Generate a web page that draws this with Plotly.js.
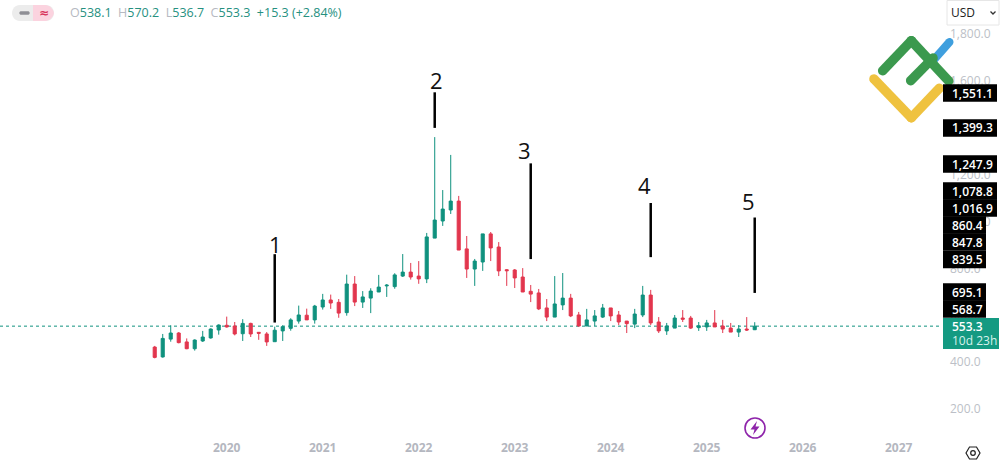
<!DOCTYPE html>
<html><head><meta charset="utf-8">
<script src="https://cdn.plot.ly/plotly-3.0.1.min.js"></script>
<style>html,body{margin:0;padding:0;background:#fff;overflow:hidden}#c{width:1000px;height:467px}</style>
</head><body><div id="c"></div>
<script>
const months=["2019-04","2019-05","2019-06","2019-07","2019-08","2019-09","2019-10","2019-11","2019-12",
"2020-01","2020-02","2020-03","2020-04","2020-05","2020-06","2020-07","2020-08","2020-09","2020-10","2020-11","2020-12",
"2021-01","2021-02","2021-03","2021-04","2021-05","2021-06","2021-07","2021-08","2021-09","2021-10","2021-11","2021-12",
"2022-01","2022-02","2022-03","2022-04","2022-05","2022-06","2022-07","2022-08","2022-09","2022-10","2022-11","2022-12",
"2023-01","2023-02","2023-03","2023-04","2023-05","2023-06","2023-07","2023-08","2023-09","2023-10","2023-11","2023-12",
"2024-01","2024-02","2024-03","2024-04","2024-05","2024-06","2024-07","2024-08","2024-09","2024-10","2024-11","2024-12",
"2025-01","2025-02","2025-03","2025-04","2025-05","2025-06","2025-07"];
const open_=[464,422,498,524,486,457,490,503,537,557,554,521,565,527,520,487,533,544,575,600,580,635,665,655,611,733,656,673,699,725,722,767,784,767,755,929,1002,1049,1087,883,797,827,947,891,794,793,763,702,695,631,592,644,673,601,554,575,592,631,601,575,562,601,686,571,533,545,588,588,547,550,567,554,545,528,541,538.1];
const high_=[469,520,557,528,501,497,533,544,561,594,571,583,568,528,528,551,557,587,641,628,644,691,688,669,773,767,703,715,772,733,779,861,823,831,951,1360,1134,1284,1109,938,840,947,955,912,797,797,801,729,712,669,767,780,691,614,627,622,648,631,618,575,627,725,708,592,567,601,622,597,571,580,622,580,567,558,592,570.2];
const low_=[416,419,487,480,455,449,486,500,517,547,514,490,507,495,469,487,490,534,564,580,564,624,627,589,598,639,631,609,699,678,713,763,752,734,737,929,981,1032,878,759,725,789,831,767,725,716,699,656,622,575,592,622,592,551,554,554,588,575,558,524,545,592,558,524,516,545,571,541,533,533,550,524,528,507,533,536.7];
const close_=[420,501,524,483,457,494,507,541,558,550,520,565,520,523,486,536,551,580,601,580,639,665,652,609,733,656,678,703,720,728,772,784,763,755,934,1006,1053,1087,878,797,831,947,887,789,790,759,699,690,627,592,648,673,597,554,580,597,631,597,571,564,605,686,567,533,554,588,583,545,555,567,550,541,528,541,537,553.3];
const yearLabels=["2020","2021","2022","2023","2024","2025","2026","2027"];
const yearTickMonths=[9,21,33,45,57,69,81,93];
const priceTicks=[200,400,600,800,1000,1200,1400,1600,1800];
const priceTickLabels=["200.0","400.0","600.0","800.0","1,000.0","1,200.0","1,400.0","1,600.0","1,800.0"];
const lastPrice=553.3;
const waveNames=["1","2","3","4","5"];
const waveMonths=[15,35,47,62,75];
const waveTop=[860.4,1551.1,1247.9,1078.8,1016.9];
const waveBottom=[568.7,1399.3,839.5,847.8,695.1];
const tagLabels=["1,551.1","1,399.3","1,247.9","1,078.8","1,016.9","860.4","847.8","839.5","695.1","568.7"];

const PW=942,PH=439;
const GREEN="#0f917e",RED="#e2364e";
const px=x=>x/PW, py=y=>1-y/PH;
const shapes=[],ann=[];
function capsule(x0,y0,x1,y1,w,color){
  const a=Math.atan2(y1-y0,x1-x0),r=w/2,pts=[];
  for(let k=0;k<=12;k++){const t=a-Math.PI/2-k*Math.PI/12;pts.push([x0+r*Math.cos(t),y0+r*Math.sin(t)]);}
  for(let k=0;k<=12;k++){const t=a+Math.PI/2-k*Math.PI/12;pts.push([x1+r*Math.cos(t),y1+r*Math.sin(t)]);}
  const path="M"+pts.map(p=>px(p[0]).toFixed(5)+","+py(p[1]).toFixed(5)).join("L")+"Z";
  shapes.push({type:"path",xref:"paper",yref:"paper",path,fillcolor:color,line:{width:0},layer:"above"});
}
function poly(pts,o){
  shapes.push(Object.assign({type:"path",xref:"paper",yref:"paper",layer:"above",
    path:"M"+pts.map(p=>px(p[0]).toFixed(5)+","+py(p[1]).toFixed(5)).join("L")+(o.close?"Z":"")},o.s));
}
function label(x,y,text,font,extra){
  ann.push(Object.assign({xref:"paper",yref:"paper",x:px(x),y:py(y),text,showarrow:false,xanchor:"left",yanchor:"middle",font,borderpad:0},extra||{}));
}
// last price line
shapes.push({type:"line",xref:"paper",yref:"y",x0:0,x1:1,y0:lastPrice,y1:lastPrice,line:{color:GREEN,width:1,dash:"dot"},layer:"below"});
// wave markers
waveNames.forEach((n,i)=>{
  shapes.push({type:"line",xref:"x",yref:"y",x0:waveMonths[i],x1:waveMonths[i],y0:waveBottom[i],y1:waveTop[i],line:{color:"#000",width:2.5},layer:"above"});
});
const wavePos=[[275,244],[436,80],[524,150],[644,185],[748,201]];
waveNames.forEach((n,i)=>{
  ann.push({xref:"paper",yref:"paper",x:px(wavePos[i][0]),y:py(wavePos[i][1]),text:n,showarrow:false,xanchor:"center",yanchor:"middle",font:{family:"Open Sans",size:22,color:"#111"}});
});
// logo
capsule(931,63,949.5,42,8,"#3f9fde");
capsule(874,79,911.3,117.7,9.5,"#efc23f");
capsule(911.3,117.7,939.3,88.3,9.5,"#efc23f");
capsule(882.7,70.7,911.3,40.7,9.5,"#3b994e");
capsule(911.3,40.7,948.7,81,9.5,"#3b994e");
capsule(910.7,80.7,933,58,9.5,"#3b994e");
// price tags
const tagY=[93,128,164,191,208,225,242,259.5,292,309];
tagLabels.forEach((t,i)=>{
  const w=t.length>5?54:43;
  shapes.push({type:"rect",xref:"paper",yref:"paper",x0:px(943),x1:px(943+w),y0:py(tagY[i]+8.7),y1:py(tagY[i]-8.7),fillcolor:"#000",line:{width:0},layer:"above"});
  label(951,tagY[i],t,{family:"Open Sans",size:12,color:"#fff",weight:600});
});
shapes.push({type:"rect",xref:"paper",yref:"paper",x0:px(943),x1:px(999),y0:py(349),y1:py(318),fillcolor:"#149a82",line:{width:0},layer:"above"});
label(951,326.5,"553.3",{family:"Open Sans",size:12,color:"#fff",weight:600});
label(951,340.5,"10d 23h",{family:"Open Sans",size:12,color:"#d6f2ec",weight:500});
// USD box
shapes.push({type:"rect",xref:"paper",yref:"paper",x0:px(947),x1:px(999),y0:py(25),y1:py(0.5),fillcolor:"#fff",line:{color:"#e6e6e6",width:1},layer:"above"});
label(950,13,"USD",{family:"Open Sans",size:12,color:"#222"});
poly([[990.5,11.5],[993,14],[995.5,11.5]],{s:{line:{color:"#333",width:1.3}}});
// top-left widget
capsule(20,13,46,13,16,"#ececec");
poly([[33,5],[46,5],[50,6.5],[53,10],[54,13],[53,16],[50,19.5],[46,21],[33,21]],{close:true,s:{fillcolor:"#fbd3df",line:{width:0}}});
capsule(21,13,28,13,3.4,"#8f8f95");
label(37.5,12.5,"≈",{family:"DejaVu Sans",size:12,color:"#d8335c",weight:700});
const G='#b6b9c2',T='#26907f';
const ohlc=["O","538.1","H","570.2","L","536.7","C","553.3"];
let ohlcText="";
for(let i=0;i<ohlc.length;i+=2){ohlcText+=`<span style="color:${G}">${ohlc[i]}</span>${ohlc[i+1]}  `;}
label(69,13,ohlcText+"+15.3 (+2.84%)",{family:"Open Sans",size:12.5,color:T,weight:500});
// lightning badge
shapes.push({type:"circle",xref:"paper",yref:"paper",x0:px(745),x1:px(765),y0:py(438),y1:py(418),fillcolor:"#fff",line:{color:"#8e24aa",width:1.6},layer:"above"});
poly([[757,421],[750.5,429.5],[754.5,429.5],[753,435],[759.5,426.5],[755.5,426.5]],{close:true,s:{fillcolor:"#8e24aa",line:{width:0}}});
// settings hexagon
poly([[966,453],[969.5,447],[976.5,447],[980,453],[976.5,459],[969.5,459]],{close:true,s:{fillcolor:"#fff",line:{color:"#222",width:1.2}}});
shapes.push({type:"circle",xref:"paper",yref:"paper",x0:px(970.7),x1:px(975.3),y0:py(455.3),y1:py(450.7),fillcolor:"#fff",line:{color:"#222",width:1.2},layer:"above"});

const trace={type:"candlestick",x:months.map((m,i)=>i),text:months,open:open_,high:high_,low:low_,close:close_,
  increasing:{line:{color:GREEN,width:1},fillcolor:GREEN},
  decreasing:{line:{color:RED,width:1},fillcolor:RED},
  whiskerwidth:0,hoverinfo:"text+y"};
const layout={width:1000,height:467,margin:{l:0,r:58,t:0,b:28},paper_bgcolor:"#fff",plot_bgcolor:"#fff",showlegend:false,
  boxgap:0.45,dragmode:false,
  xaxis:{type:"linear",range:[-19.34,98.41],rangeslider:{visible:false},showgrid:false,zeroline:false,showline:false,ticks:"",
    tickmode:"array",tickvals:yearTickMonths,ticktext:yearLabels,tickfont:{family:"Open Sans",size:12,color:"#b4b7c0",weight:700},ticklabelstandoff:0},
  yaxis:{side:"right",range:[1945-4.267*439,1945],showgrid:false,zeroline:false,showline:false,ticks:"",
    tickmode:"array",tickvals:priceTicks,ticktext:priceTickLabels,tickfont:{family:"Open Sans",size:12,color:"#bcbfc7"},ticklabelstandoff:7},
  shapes,annotations:ann};
Plotly.newPlot("c",[trace],layout,{displayModeBar:false,staticPlot:true});
</script></body></html>
